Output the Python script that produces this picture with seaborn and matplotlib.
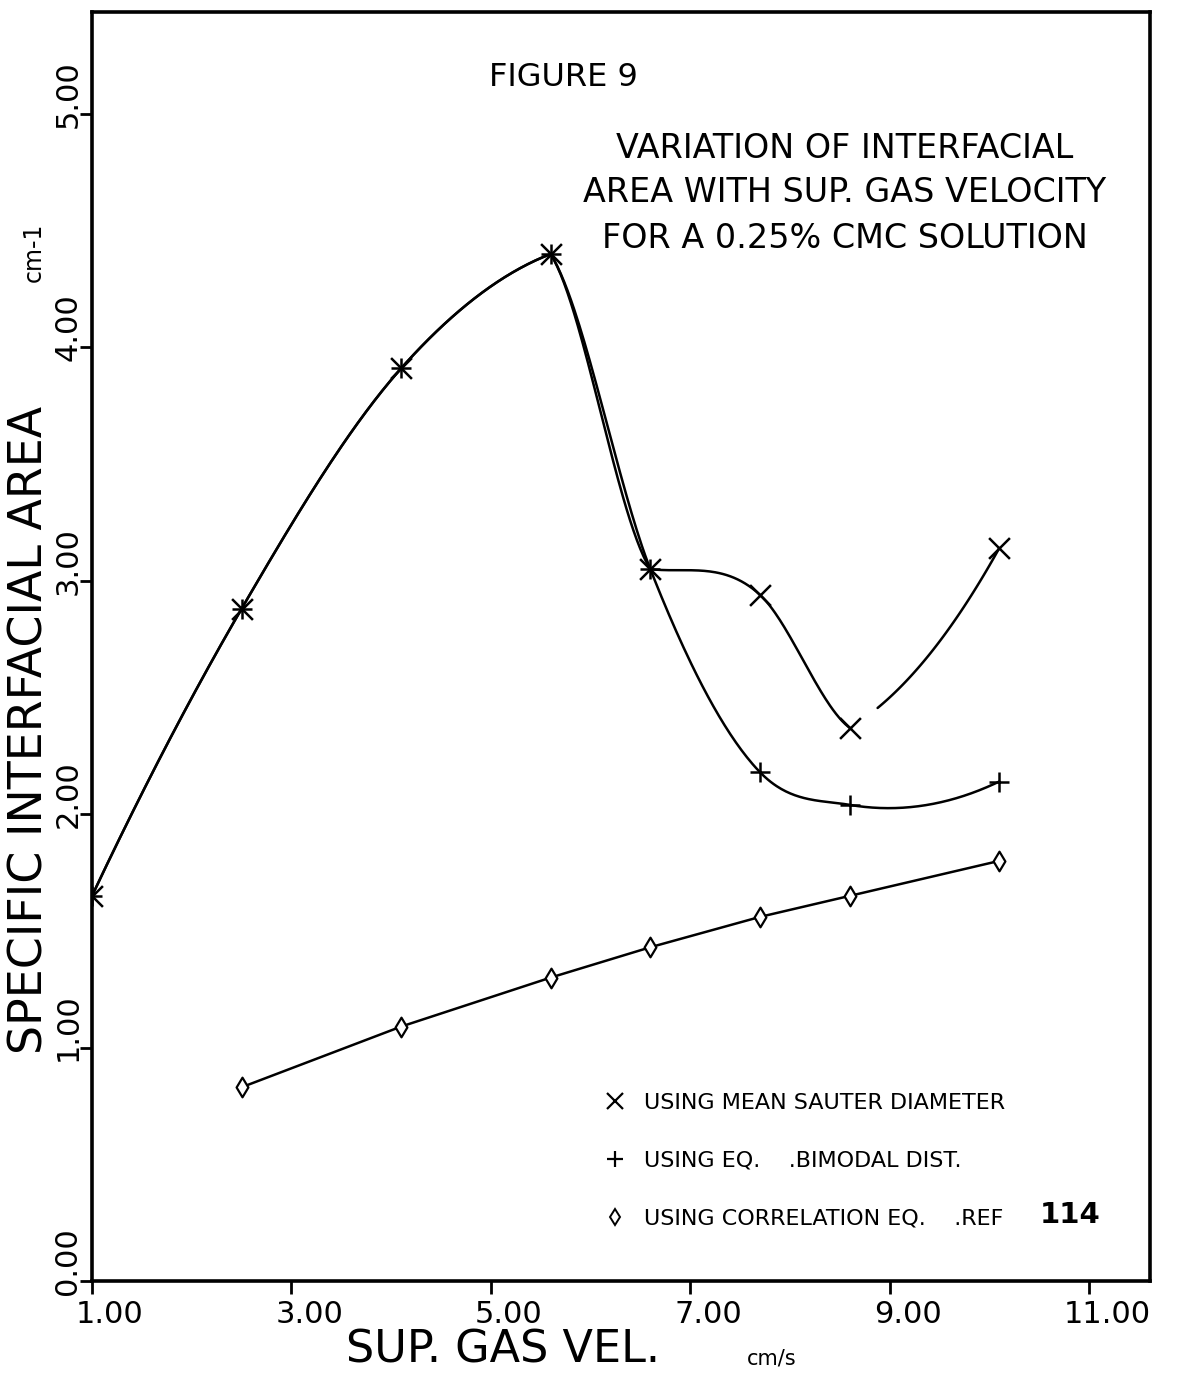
import numpy as np
import pandas as pd
import matplotlib
matplotlib.use("Agg")
import matplotlib.pyplot as plt
import seaborn as sns
from matplotlib.lines import Line2D
from matplotlib.transforms import ScaledTranslation

# ---- data -------------------------------------------------------------
velocity = [1.0, 2.5, 4.1, 5.6, 6.6, 7.7, 8.6, 10.1]          # cm/s
area_sauter = [1.65, 2.88, 3.91, 4.40, 3.05, 2.94, 2.37, 3.14]   # cm-1
area_bimodal = [1.65, 2.88, 3.91, 4.40, 3.05, 2.18, 2.04, 2.14]  # cm-1
velocity_corr = [2.5, 4.1, 5.6, 6.6, 7.7, 8.6, 10.1]
area_corr = [0.83, 1.09, 1.30, 1.43, 1.56, 1.65, 1.80]

x_ticks = [1, 3, 5, 7, 9, 11]
y_ticks = [0, 1, 2, 3, 4, 5]
legend_labels = ["USING MEAN SAUTER DIAMETER",
                 "USING EQ.    .BIMODAL DIST.",
                 "USING CORRELATION EQ.    .REF"]


def hermite_curve(xs, ys, corners=(), n=60):
    """Smooth hand-drawn style curve through the points (cubic Hermite).
    Points listed in `corners` get independent, softened tangents on each side."""
    xs = np.asarray(xs, float)
    ys = np.asarray(ys, float)
    h = np.diff(xs)
    d = np.diff(ys) / h
    k = len(xs)
    mL = np.zeros(k)
    mR = np.zeros(k)
    for i in range(1, k - 1):
        if i in corners:
            mL[i] = 0.5 * d[i - 1]
            mR[i] = 0.5 * d[i]
        else:
            m = (h[i] * d[i - 1] + h[i - 1] * d[i]) / (h[i - 1] + h[i])
            mL[i] = mR[i] = m
    mR[0] = 2 * d[0] - mL[1] if k > 2 else d[0]
    mL[-1] = 2 * d[-1] - mR[-2] if k > 2 else d[-1]
    out_x, out_y = [], []
    t = np.linspace(0, 1, n)
    h00 = 2 * t**3 - 3 * t**2 + 1
    h10 = t**3 - 2 * t**2 + t
    h01 = -2 * t**3 + 3 * t**2
    h11 = t**3 - t**2
    for i in range(k - 1):
        yy = h00 * ys[i] + h10 * h[i] * mR[i] + h01 * ys[i + 1] + h11 * h[i] * mL[i + 1]
        xx = xs[i] + t * h[i]
        if i > 0:
            xx, yy = xx[1:], yy[1:]
        out_x.append(xx)
        out_y.append(yy)
    return np.concatenate(out_x), np.concatenate(out_y)


# ---- figure -----------------------------------------------------------
sns.set_theme(style="white")
plt.rcParams["font.family"] = ["DejaVu Sans"]
plt.rcParams.update({"axes.edgecolor": "black", "text.color": "black",
                     "axes.labelcolor": "black", "xtick.color": "black",
                     "ytick.color": "black"})

W, H, DPI = 1179, 1387, 100
fig = plt.figure(figsize=(W / DPI, H / DPI), dpi=DPI, facecolor="white")
L, R, T, B = 92, 1150, 12, 1281
ax = fig.add_axes([L / W, 1 - B / H, (R - L) / W, (B - T) / H])
ax.set_facecolor("white")

# curves
sx, sy = hermite_curve(velocity, area_sauter, corners=(3, 4, 6))
bx, by = hermite_curve(velocity, area_bimodal, corners=(3,))
# the pen lifts briefly after the 8.6 cm/s point on the Sauter curve
lift_start, lift_end = velocity[6], velocity[6] + 0.26
keep = (sx <= lift_start) | (sx >= lift_end)
sauter_df = pd.DataFrame({"x": sx[keep], "y": sy[keep],
                          "piece": np.where(sx[keep] <= lift_start, 0, 1)})
bimodal_df = pd.DataFrame({"x": bx, "y": by, "piece": 0})
corr_df = pd.DataFrame({"x": velocity_corr, "y": area_corr, "piece": 0})

for df in (sauter_df, bimodal_df, corr_df):
    sns.lineplot(data=df, x="x", y="y", units="piece", estimator=None,
                 sort=False, color="black", linewidth=1.8, ax=ax, legend=False)

# markers
sns.scatterplot(x=velocity, y=area_sauter, marker="x", s=15**2, color="black",
                linewidth=1.8, ax=ax, zorder=4, legend=False)
sns.scatterplot(x=velocity, y=area_bimodal, marker="+", s=15**2, color="black",
                linewidth=1.8, ax=ax, zorder=4, legend=False)
sns.scatterplot(x=velocity_corr, y=area_corr, marker="d", s=10**2,
                facecolor="white", edgecolor="black", linewidth=1.6,
                ax=ax, zorder=4, legend=False)

# axes
ax.set_xlim(1, 1 + (R - L) / 99.7)
ax.set_ylim(0, (B - T) / 233.4)
for sp in ax.spines.values():
    sp.set_visible(True)
    sp.set_linewidth(2.6)
    sp.set_color("black")
ax.set_xticks(x_ticks)
ax.set_yticks(y_ticks)
ax.set_xticklabels([f"{v:.2f}" for v in x_ticks], fontsize=22)
ax.set_yticklabels([f"{v:.2f}" for v in y_ticks], fontsize=22, rotation=90,
                   va="center")
ax.tick_params(axis="both", direction="out", length=9, width=2, color="black",
               bottom=True, left=True, top=False, right=False)
ax.tick_params(axis="x", pad=5)
ax.tick_params(axis="y", pad=0)
for lab in ax.get_xticklabels():
    lab.set_transform(lab.get_transform() + ScaledTranslation(0.18, 0, fig.dpi_scale_trans))
for lab in ax.get_yticklabels():
    lab.set_transform(lab.get_transform() + ScaledTranslation(0.03, 0.20, fig.dpi_scale_trans))

ax.set_xlabel("SUP. GAS VEL.", fontsize=32)
ax.xaxis.set_label_coords((503 - L) / (R - L), (B - 1350) / (B - T))
ax.xaxis.label.set_va("center")
ax.set_ylabel("SPECIFIC INTERFACIAL AREA", fontsize=33)
ax.yaxis.set_label_coords((30 - L) / (R - L), (B - 730) / (B - T))
ax.yaxis.label.set_va("center")

fig.text(772 / W, 1 - 1358 / H, "cm/s", fontsize=15, ha="center", va="center")
fig.text(34 / W, 1 - 252 / H, "cm-1", fontsize=17, ha="center", va="center",
         rotation=90)

# titles
fig.text(563 / W, 1 - 77 / H, "FIGURE 9", fontsize=23, ha="center", va="center")
for txt, yp in zip(["VARIATION OF INTERFACIAL",
                    "AREA WITH SUP. GAS VELOCITY",
                    "FOR A 0.25% CMC SOLUTION"], [148, 193, 239]):
    fig.text(845 / W, 1 - yp / H, txt, fontsize=24, ha="center", va="center")

# legend
handles = [
    Line2D([], [], ls="none", marker="x", ms=11, mew=1.6, color="black"),
    Line2D([], [], ls="none", marker="+", ms=12, mew=1.6, color="black"),
    Line2D([], [], ls="none", marker="d", ms=8, mew=1.4, mfc="white", mec="black"),
]
ax.legend(handles, legend_labels, loc="upper left",
          bbox_to_anchor=((604 - L) / (R - L), (B - 1093) / (B - T)),
          frameon=False, fontsize=16, handlelength=1.0, handletextpad=0.8,
          labelspacing=1.7, borderpad=0, borderaxespad=0)
fig.text(1070 / W, 1 - 1215 / H, "114", fontsize=21, fontweight="bold",
         ha="center", va="center")

fig.savefig("out.png", dpi=DPI, facecolor="white")
